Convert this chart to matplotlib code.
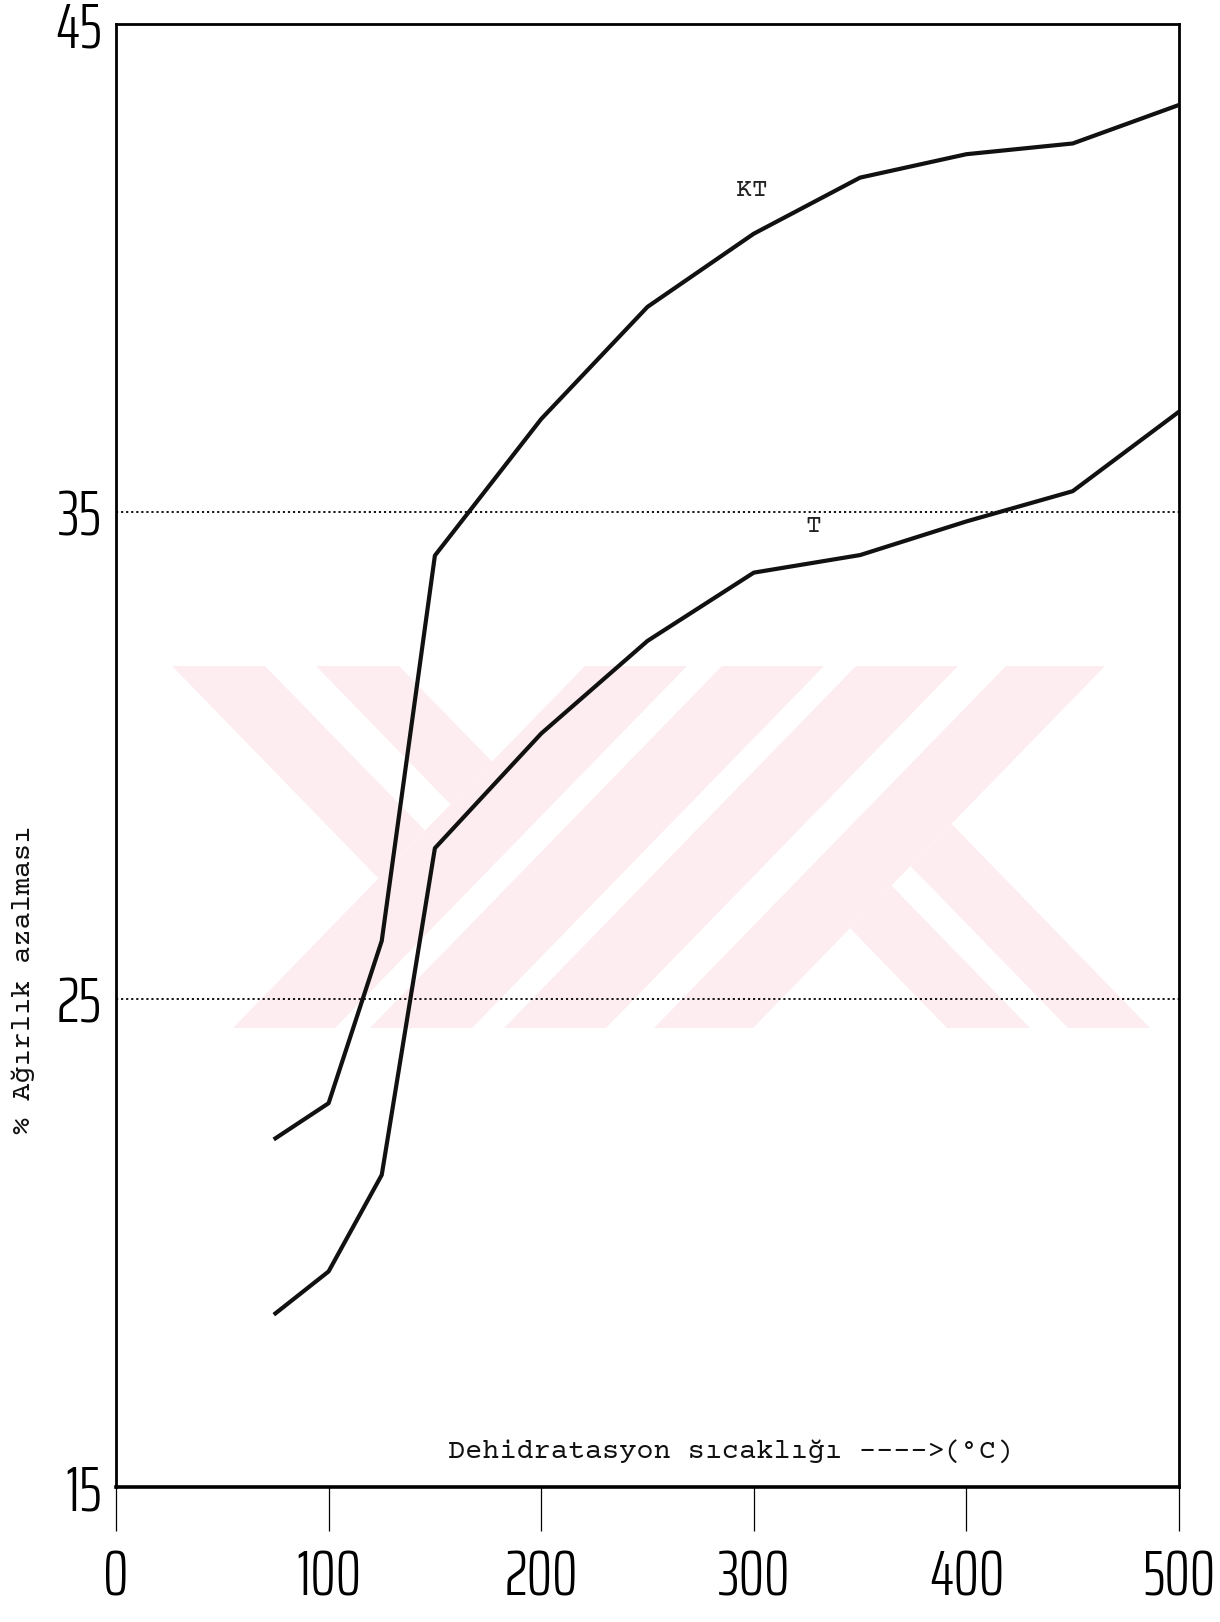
import matplotlib
matplotlib.use('Agg')
import matplotlib.pyplot as plt
from matplotlib.patches import Polygon

# ---- data ----
temps = [75, 100, 125, 150, 200, 250, 300, 350, 400, 450, 500]
kt_loss = [22.15, 22.87, 26.2, 34.1, 36.9, 39.2, 40.7, 41.85, 42.33, 42.55, 43.34]
t_loss = [18.56, 19.42, 21.4, 28.1, 30.45, 32.35, 33.75, 34.11, 34.8, 35.42, 37.05]
x_ticks = [0, 100, 200, 300, 400, 500]
y_ticks = [15, 25, 35, 45]
grid_levels = [25, 35]
series_labels = ["KT", "T"]
label_pos = [(299, 41.6), (328, 34.7)]
xlabel = "Dehidratasyon sıcaklığı ---->(°C)"
ylabel = "% Ağırlık azalması"

W, H = 1220, 1622
fig = plt.figure(figsize=(W / 100, H / 100), dpi=100)
fig.patch.set_facecolor('white')
ax = fig.add_axes([116 / W, 1 - 1487 / H, (1179 - 116) / W, (1487 - 24) / H])
ax.set_facecolor('none')

# ---- faint watermark (decoration, figure pixel space) ----
def fpx(x, y):
    return (x / W, 1 - y / H)

def inter(p1, p2, p3, p4):
    x1, y1 = p1; x2, y2 = p2; x3, y3 = p3; x4, y4 = p4
    d = (x1 - x2) * (y3 - y4) - (y1 - y2) * (x3 - x4)
    t = ((x1 - x3) * (y3 - y4) - (y1 - y3) * (x3 - x4)) / d
    return (x1 + t * (x2 - x1), y1 + t * (y2 - y1))

ytop, ybot, s = 666, 1028, 352
wm_color = '#fdedf0'
polys = []
for a, b in [(233, 335), (370, 472), (504, 606), (654, 753)]:
    polys.append([(a, ybot), (b, ybot), (b + s, ytop), (a + s, ytop)])
L1 = ((233, ybot), (233 + s, ytop))
for a, b in [(172, 265), (316, 399)]:
    pr = inter((b, ytop), (b + s, ybot), *L1)
    pl = inter((a, ytop), (a + s, ybot), *L1)
    polys.append([(a, ytop), (b, ytop), pr, pl])
L4 = ((753, ybot), (753 + s, ytop))
for a, b in [(947, 1030), (1068, 1150)]:
    pr = inter((b, ybot), (b - s, ytop), *L4)
    pl = inter((a, ybot), (a - s, ytop), *L4)
    polys.append([(a, ybot), (b, ybot), pr, pl])
for p in polys:
    fig.add_artist(Polygon([fpx(*v) for v in p], closed=True, transform=fig.transFigure,
                           facecolor=wm_color, edgecolor='none', zorder=-5))

# ---- grid lines ----
for g in grid_levels:
    ax.axhline(g, color='black', lw=1.3, ls=(0, (1.2, 1.6)), zorder=2)

# ---- curves ----
ax.plot(temps, kt_loss, color='#111111', lw=3.0, solid_joinstyle='round', zorder=3)
ax.plot(temps, t_loss, color='#111111', lw=3.0, solid_joinstyle='round', zorder=3)

mono = ['Courier Prime', 'Liberation Mono', 'DejaVu Sans Mono']
for lab, (lx, ly) in zip(series_labels, label_pos):
    ax.text(lx, ly, lab, family=mono, fontsize=19, ha='center', va='center', color='#222222')

ax.text(156, 15.74, xlabel, family=mono, fontsize=20.5, ha='left', va='center', color='#111111')
fig.text(23 / W, 1 - 980 / H, ylabel, family=mono, fontsize=20.5, rotation=90,
         ha='center', va='center', color='#111111')

ax.set_xlim(0, 500)
ax.set_ylim(15, 45)
ax.set_xticks(x_ticks)
ax.set_yticks(y_ticks)
tick_font = dict(family=['Saira ExtraCondensed', 'DejaVu Sans'], weight=300, size=46)
ax.set_xticklabels([str(v) for v in x_ticks], fontdict=tick_font)
ax.set_yticklabels([str(v) for v in y_ticks], fontdict=tick_font)
ax.tick_params(axis='x', direction='out', length=32, width=0.9, pad=12, colors='black')
ax.tick_params(axis='y', length=0, pad=10)
for side, lw in [('left', 2.0), ('top', 2.0), ('right', 2.0), ('bottom', 2.6)]:
    ax.spines[side].set_linewidth(lw)
    ax.spines[side].set_color('black')

fig.savefig('out.png', dpi=100)
